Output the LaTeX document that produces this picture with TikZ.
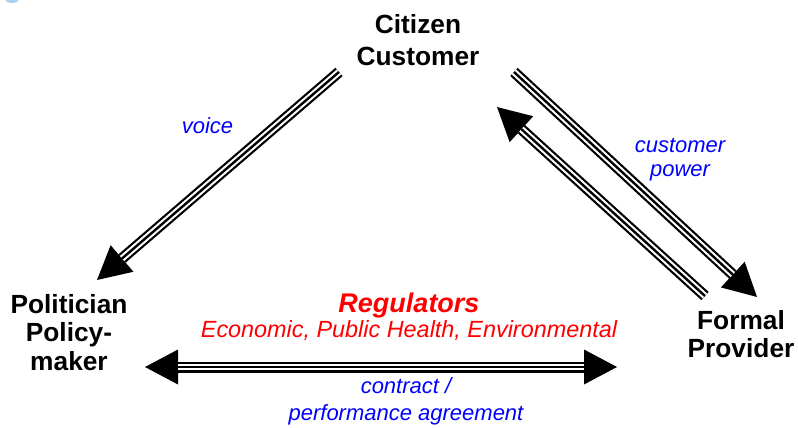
\documentclass[tikz,border=0pt]{standalone}
\usepackage{fontspec}
\setmainfont{Liberation Sans}
\usepackage{xcolor}
\usepackage{tikz}
\usetikzlibrary{arrows.meta}
\definecolor{lblblue}{RGB}{0,0,255}
\definecolor{lblred}{RGB}{255,0,0}
\definecolor{dotblue}{RGB}{170,208,238}

\begin{document}
\begin{tikzpicture}[x=1pt, y=-1pt,
  party/.style={align=center, inner sep=0pt, font=\fontsize{26.3}{28.5}\selectfont\bfseries},
  link/.style={align=center, inner sep=0pt, text=lblblue, font=\fontsize{22}{24}\selectfont\itshape},
  tri/.style={line width=11pt, -{Triangle[length=33pt,width=35pt,line width=0pt]},
    postaction={draw=white, line width=6.6pt, arrows=-, shorten >=33pt},
    postaction={draw=black, line width=2.4pt, arrows=-, shorten >=33pt}},
  tritwo/.style={line width=11pt, {Triangle[length=33pt,width=35pt,line width=0pt]}-{Triangle[length=33pt,width=35pt,line width=0pt]},
    postaction={draw=white, line width=6.6pt, arrows=-, shorten <=33pt, shorten >=33pt},
    postaction={draw=black, line width=2.4pt, arrows=-, shorten <=33pt, shorten >=33pt}}]
\useasboundingbox (0,0) rectangle (798,428);
\fill[dotblue] (12,-1) ellipse (7 and 4);

\node[party, anchor=north, font=\fontsize{26.3}{32}\selectfont\bfseries] (cit) at (418,14) {Citizen\\Customer};
\node[party, anchor=north] (pol) at (69,294) {Politician\\Policy-\\maker};
\node[party, anchor=north] (prov) at (741,310) {Formal\\Provider};
\node[anchor=north, align=center, inner sep=0pt, text=lblred, font=\fontsize{23.4}{25}\selectfont\itshape] (reg) at (409,292.5) {{\fontsize{27}{25}\selectfont\bfseries Regulators}\\Economic, Public Health, Environmental};

\node[link, anchor=base] (voice) at (207.5,133) {voice};
\node[link, anchor=north] (cpow) at (680,138.5) {customer\\power};
\node[link, anchor=north, font=\fontsize{22}{27}\selectfont\itshape] (contr) at (406,377) {contract /\\performance agreement};

\coordinate (cit-voice) at (339,72);
\coordinate (pol-voice) at (97,280);
\coordinate (cit-down) at (514,72);
\coordinate (prov-down) at (757,297);
\coordinate (prov-up) at (705,296);
\coordinate (cit-up) at (497,107);
\coordinate (pol-contr) at (145,367);
\coordinate (prov-contr) at (617,367);

\draw[tri] (cit-voice) -- (pol-voice);
\draw[tri] (cit-down) -- (prov-down);
\draw[tri] (prov-up) -- (cit-up);
\draw[tritwo] (pol-contr) -- (prov-contr);
\end{tikzpicture}
\end{document}
